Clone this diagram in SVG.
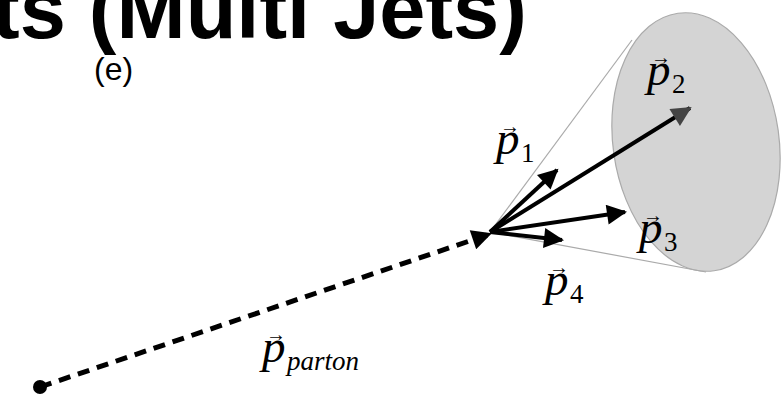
<svg xmlns="http://www.w3.org/2000/svg" width="782" height="394" viewBox="0 0 782 394">
<defs>
<style>
.title{font-family:"Liberation Sans",Arial,sans-serif;font-weight:bold;font-size:83px;fill:#000}
.lbl{font-family:"Liberation Sans",Arial,sans-serif;font-size:32px;fill:#000}
.p{font-family:"Liberation Serif","Times New Roman",serif;font-style:italic;font-size:47px;fill:#000}
.sub{font-family:"Liberation Serif","Times New Roman",serif;font-size:27px;fill:#000}
.subi{font-family:"Liberation Serif","Times New Roman",serif;font-style:italic;font-size:27px;fill:#000}
.vec{font-family:"Liberation Serif","Times New Roman",serif;font-size:20px;fill:#000}
.arr{stroke:#000;stroke-width:4;fill:none;marker-end:url(#ah)}
.cone{stroke:#aaa;stroke-width:1.2;fill:none}
</style>
<marker id="ah" viewBox="0 0 10 10" refX="9" refY="5" markerWidth="6" markerHeight="5" orient="auto" markerUnits="strokeWidth">
<path d="M0,0 L10,5 L0,10 Z" fill="#000"/>
</marker>
<marker id="ah2" viewBox="0 0 10 10" refX="9" refY="5" markerWidth="6" markerHeight="5" orient="auto" markerUnits="strokeWidth">
<path d="M0,0 L10,5 L0,10 Z" fill="#444"/>
</marker>
<marker id="ahd" viewBox="0 0 10 10" refX="9" refY="5" markerWidth="4.5" markerHeight="4" orient="auto" markerUnits="strokeWidth">
<path d="M0,0 L10,5 L0,10 Z" fill="#000"/>
</marker>
</defs>
<g id="title"><text class="title" x="-8" y="38">ts (Multi Jets)</text></g>
<g id="panel-label"><text class="lbl" x="94" y="80">(e)</text></g>
<g id="jet-cone">
<ellipse cx="696" cy="142" rx="83" ry="130" transform="rotate(-8 696 142)" fill="#d4d4d4" stroke="#aaa" stroke-width="1.2"/>
<line class="cone" x1="490" y1="232" x2="632" y2="40"/>
<line class="cone" x1="490" y1="232" x2="706" y2="272"/>
</g>
<g id="connectors">
<line x1="40" y1="387" x2="490" y2="234" stroke="#000" stroke-width="5" stroke-dasharray="12 8" marker-end="url(#ahd)"/>
<line class="arr" x1="490" y1="232" x2="557" y2="170"/>
<line x1="490" y1="232" x2="690" y2="108" stroke="#000" stroke-width="4" marker-end="url(#ah2)"/>
<line class="arr" x1="490" y1="232" x2="625" y2="212"/>
<line class="arr" x1="490" y1="232" x2="562" y2="240"/>
</g>
<g id="origin-dot"><circle cx="40" cy="387" r="7" fill="#000"/></g>
<g id="label-p1"><text class="vec" x="500" y="133">→</text><text class="p" x="496" y="154">p</text><text class="sub" x="521" y="162">1</text></g>
<g id="label-p2"><text class="vec" x="651" y="64">→</text><text class="p" x="647" y="85">p</text><text class="sub" x="672" y="93">2</text></g>
<g id="label-p3"><text class="vec" x="643" y="222">→</text><text class="p" x="639" y="243">p</text><text class="sub" x="664" y="251">3</text></g>
<g id="label-p4"><text class="vec" x="549" y="274">→</text><text class="p" x="545" y="295">p</text><text class="sub" x="570" y="303">4</text></g>
<g id="label-parton"><text class="vec" x="266" y="341">→</text><text class="p" x="262" y="362">p</text><text class="subi" x="287" y="370">parton</text></g>
</svg>
